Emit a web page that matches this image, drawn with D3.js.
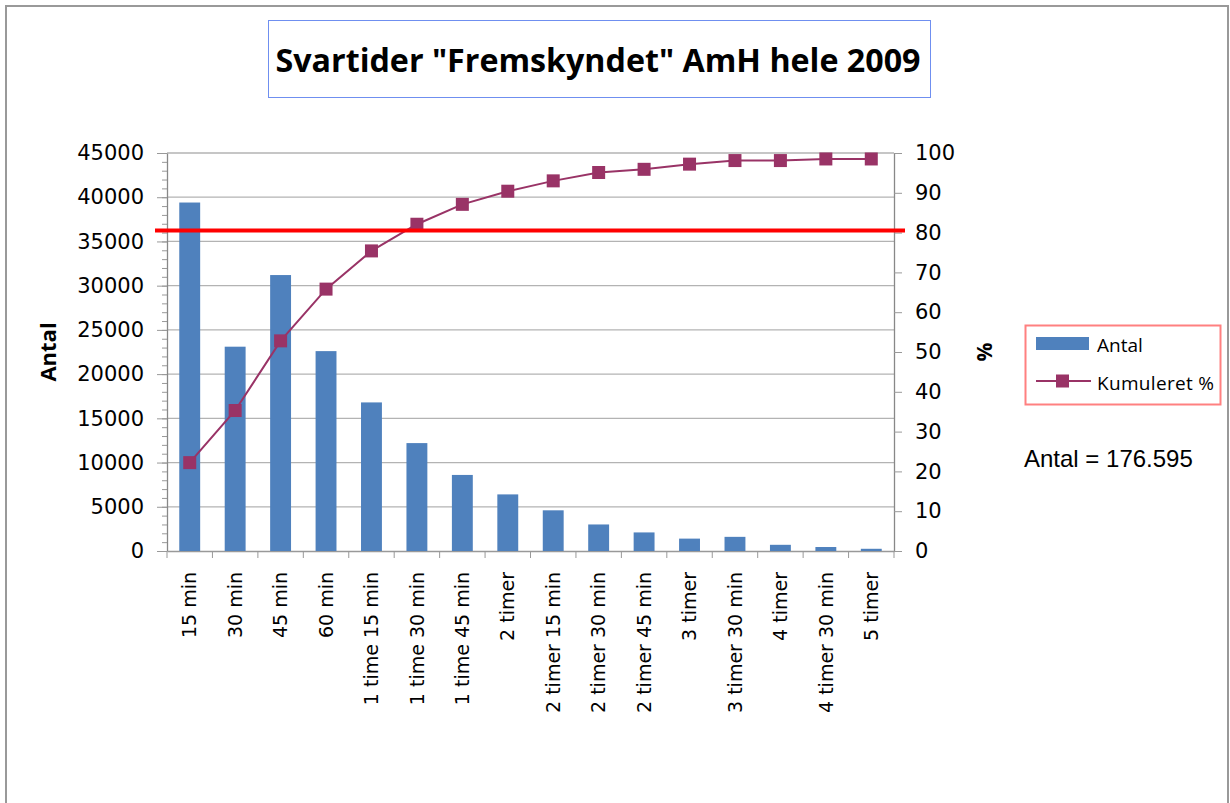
<!DOCTYPE html>
<html>
<head>
<meta charset="utf-8">
<script src="https://cdn.jsdelivr.net/npm/d3@7"></script>
<style>
  body { margin: 0; background: #fff; }
  svg { display: block; }
</style>
</head>
<body>
<div id="app"></div>
<script>
const categories = ["15 min", "30 min", "45 min", "60 min", "1 time 15 min", "1 time 30 min",
    "1 time 45 min", "2 timer", "2 timer 15 min", "2 timer 30 min", "2 timer 45 min",
    "3 timer", "3 timer 30 min", "4 timer", "4 timer 30 min", "5 timer"];
const antal = [39400, 23100, 31200, 22600, 16800, 12200, 8600, 6400, 4600, 3000, 2100, 1400, 1600, 700, 450, 250];
const kumuleret = [22.2, 35.3, 52.8, 65.8, 75.4, 82.1, 87.1, 90.4, 93.0, 95.1, 95.9, 97.2, 98.1, 98.1, 98.5, 98.5];
const leftTicks = d3.range(0, 45001, 5000);
const rightTicks = d3.range(0, 101, 10);
const targetPct = 80.5;
const title = 'Svartider "Fremskyndet" AmH hele 2009';
const totalLabel = "Antal = 176.595";

const width = 1230, height = 803;
const plot = {left: 167, right: 894, top: 153, bottom: 551};
const barColor = "#4f81bd", lineColor = "#993366";
const tickFont = "DejaVu Sans";

const svg = d3.select("#app").append("svg")
    .attr("width", width)
    .attr("height", height);

// outer chart frame (bottom edge is off the page)
svg.append("path")
    .attr("d", "M6,810 V6 H1228 V810")
    .attr("fill", "none")
    .attr("stroke", "#999")
    .attr("stroke-width", 2);

// title box
svg.append("rect")
    .attr("x", 268.5).attr("y", 20.5).attr("width", 662).attr("height", 77)
    .attr("fill", "#fff").attr("stroke", "#6f8ff0").attr("stroke-width", 1);
svg.append("text")
    .attr("x", 598).attr("y", 72)
    .attr("text-anchor", "middle")
    .attr("font-family", "Open Sans")
    .attr("font-weight", "bold")
    .attr("font-size", 33)
    .attr("textLength", 645)
    .attr("lengthAdjust", "spacingAndGlyphs")
    .text(title);

const x = d3.scaleBand().domain(categories).range([plot.left, plot.right]).paddingInner(0).paddingOuter(0);
const y = d3.scaleLinear().domain([0, 45000]).range([plot.bottom, plot.top]);
const y2 = d3.scaleLinear().domain([0, 100]).range([plot.bottom, plot.top]);

//gridlines
svg.append("g").selectAll("line")
    .data(leftTicks.filter(d => d > 0)).enter()
    .append("line")
    .attr("x1", plot.left).attr("x2", plot.right)
    .attr("y1", d => y(d)).attr("y2", d => y(d))
    .attr("stroke", "#b3b3b3").attr("stroke-width", 1.3);

//Left axis with minor ticks
const minor = svg.append("g")
    .attr("transform", "translate(" + plot.left + ",0)")
    .call(d3.axisLeft(y).tickValues(d3.range(0, 45001, 1000)).tickSize(5).tickFormat(""));
minor.select(".domain").remove();
minor.selectAll("line").attr("stroke", "#999");

const left = svg.append("g")
    .attr("transform", "translate(" + plot.left + ",0)")
    .call(d3.axisLeft(y).tickValues(leftTicks).tickSize(10).tickPadding(13).tickSizeOuter(0).tickFormat(d3.format("d")));
left.select(".domain").attr("stroke", "#888").attr("stroke-width", 1.3);
left.selectAll("line").attr("stroke", "#999");
left.selectAll("text").attr("font-family", tickFont).attr("font-size", 21).attr("fill", "#000");

//Right axis
const right = svg.append("g")
    .attr("transform", "translate(" + plot.right + ",0)")
    .call(d3.axisRight(y2).tickValues(rightTicks).tickSize(8).tickPadding(13).tickSizeOuter(0));
right.select(".domain").attr("stroke", "#888").attr("stroke-width", 1.3);
right.selectAll("line").attr("stroke", "#999");
right.selectAll("text").attr("font-family", tickFont).attr("font-size", 21).attr("fill", "#000");

//Bottom axis
const bottom = svg.append("g")
    .attr("transform", "translate(0," + plot.bottom + ")")
    .call(d3.axisBottom(x).tickSize(0).tickFormat(""));
bottom.select(".domain").attr("stroke", "#999").attr("stroke-width", 1.3);
bottom.selectAll("g.tick").remove();

bottom.append("g").selectAll("line")
    .data(categories.map(c => x(c)).concat([plot.right])).enter()
    .append("line")
    .attr("x1", d => d).attr("x2", d => d)
    .attr("y1", 0).attr("y2", 7)
    .attr("stroke", "#999");

svg.append("g").selectAll("text")
    .data(categories).enter()
    .append("text")
    .attr("transform", d => "translate(" + (x(d) + x.bandwidth() / 2) + "," + (plot.bottom + 21) + ") rotate(-90)")
    .attr("dy", "0.35em")
    .attr("text-anchor", "end")
    .attr("font-family", tickFont)
    .attr("font-size", 19)
    .text(d => d);

//Bars
const barW = x.bandwidth() * 0.46;
svg.append("g").selectAll("rect")
    .data(antal).enter()
    .append("rect")
    .attr("x", (d, i) => x(categories[i]) + (x.bandwidth() - barW) / 2)
    .attr("y", d => y(d))
    .attr("width", barW)
    .attr("height", d => plot.bottom - y(d))
    .attr("fill", barColor);

//Cumulative line
const line = d3.line()
    .x((d, i) => x(categories[i]) + x.bandwidth() / 2)
    .y(d => y2(d));
svg.append("path")
    .datum(kumuleret)
    .attr("d", line)
    .attr("fill", "none")
    .attr("stroke", lineColor)
    .attr("stroke-width", 2);
svg.append("g").selectAll("rect")
    .data(kumuleret).enter()
    .append("rect")
    .attr("x", (d, i) => x(categories[i]) + x.bandwidth() / 2 - 6.5)
    .attr("y", d => y2(d) - 6.5)
    .attr("width", 13).attr("height", 13)
    .attr("fill", lineColor);

//80% target line
svg.append("line")
    .attr("x1", plot.left - 12).attr("x2", plot.right + 11)
    .attr("y1", y2(targetPct)).attr("y2", y2(targetPct))
    .attr("stroke", "#ff0000").attr("stroke-width", 4);

//Axis titles
svg.append("text")
    .attr("transform", "translate(56,352) rotate(-90)")
    .attr("text-anchor", "middle")
    .attr("font-family", "Open Sans").attr("font-weight", "bold").attr("font-size", 22)
    .text("Antal");
svg.append("text")
    .attr("transform", "translate(992,352) rotate(-90)")
    .attr("text-anchor", "middle")
    .attr("font-family", "Open Sans").attr("font-weight", "bold").attr("font-size", 21)
    .text("%");

//Legend
const legend = svg.append("g");
legend.append("rect")
    .attr("x", 1025.5).attr("y", 325.5).attr("width", 195).attr("height", 79)
    .attr("fill", "#fff").attr("stroke", "#ff8080").attr("stroke-width", 2);
legend.append("rect")
    .attr("x", 1036).attr("y", 337).attr("width", 53).attr("height", 13)
    .attr("fill", barColor);
legend.append("text")
    .attr("x", 1097).attr("y", 352)
    .attr("font-family", "Open Sans").attr("font-size", 19)
    .text("Antal");
legend.append("line")
    .attr("x1", 1036).attr("x2", 1091).attr("y1", 381).attr("y2", 381)
    .attr("stroke", lineColor).attr("stroke-width", 2);
legend.append("rect")
    .attr("x", 1056).attr("y", 374.5).attr("width", 13).attr("height", 13)
    .attr("fill", lineColor);
legend.append("text")
    .attr("x", 1097).attr("y", 390)
    .attr("font-family", "Open Sans").attr("font-size", 19)
    .attr("textLength", 117)
    .text("Kumuleret %");

svg.append("text")
    .attr("x", 1024).attr("y", 467)
    .attr("font-family", "Liberation Sans").attr("font-size", 24)
    .text(totalLabel);
</script>
</body>
</html>
